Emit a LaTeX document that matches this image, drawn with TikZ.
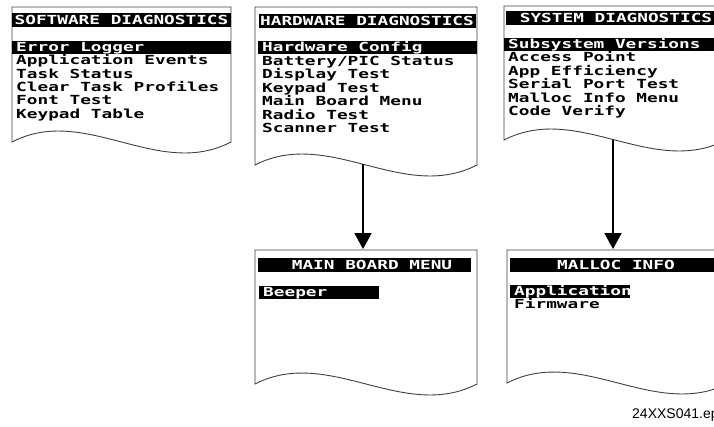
\documentclass[tikz,border=0pt]{standalone}
\usepackage{fontspec}
\setmainfont{Liberation Sans}
\newfontfamily\scrfont[FakeStretch=1.42]{DejaVu Sans Mono}
\newcommand\scrtext{\scrfont\bfseries\fontsize{12.5pt}{13pt}\selectfont}
\usetikzlibrary{arrows.meta}

\tikzset{
  scrbox/.style={draw=black!75, line width=0.9pt, fill=white},
  titlebar/.style={fill=black, text=white, inner sep=0pt, minimum height=14pt,
    text height=10.5pt, text depth=1.5pt, font=\scrtext},
  item/.style={anchor=west, inner xsep=0pt, inner ysep=0pt,
    text height=10.5pt, text depth=1.5pt, font=\scrtext},
  hilite/.style={item, fill=black, text=white, inner xsep=4pt,
    minimum height=13pt},
  flow/.style={line width=2pt, -{Triangle[width=17pt,length=16pt]}}
}

\begin{document}
\begin{tikzpicture}[x=1pt,y=-1pt]
\useasboundingbox (0,0) rectangle (714,426);
\clip (0,0) rectangle (714,426);

% screens, wavy bottom
\draw[scrbox] (12,142) -- (12,7) -- (231,7) -- (231,142)
  .. controls (158,180) and (85,104) .. cycle;
\draw[scrbox] (255,165) -- (255,7) -- (477,7) -- (477,165)
  .. controls (403,203) and (329,127) .. cycle;
\draw[scrbox] (504,140) -- (504,6) -- (726,6) -- (726,140)
  .. controls (652,178) and (578,102) .. cycle;
\draw[scrbox] (255,384) -- (255,250) -- (477,250) -- (477,384)
  .. controls (403,422) and (329,346) .. cycle;
\draw[scrbox] (507,383) -- (507,250) -- (729,250) -- (729,383)
  .. controls (655,421) and (581,345) .. cycle;

% software diagnostics
\node[titlebar, minimum width=219pt] (swtitle) at (121.5,20) {SOFTWARE DIAGNOSTICS};
\node[hilite] (sw1) at (12,47) {\makebox[211pt][l]{Error Logger}};
\node[item] (sw2) at (16,60.3) {Application Events};
\node[item] (sw3) at (16,73.6) {Task Status};
\node[item] (sw4) at (16,86.9) {Clear Task Profiles};
\node[item] (sw5) at (16,100.2) {Font Test};
\node[item] (sw6) at (16,113.5) {Keypad Table};

% hardware diagnostics
\node[titlebar, minimum width=217pt] (hwtitle) at (367,21) {HARDWARE DIAGNOSTICS};
\node[hilite] (hw1) at (258,47) {\makebox[211pt][l]{Hardware Config}};
\node[item] (hw2) at (262,60.5) {Battery/PIC Status};
\node[item] (hw3) at (262,74) {Display Test};
\node[item] (hw4) at (262,87.5) {Keypad Test};
\node[item] (hw5) at (262,101) {Main Board Menu};
\node[item] (hw6) at (262,114.5) {Radio Test};
\node[item] (hw7) at (262,128) {Scanner Test};

% system diagnostics
\node[titlebar, minimum width=220pt] (systitle) at (616,17.5) {SYSTEM DIAGNOSTICS};
\node[hilite] (sys1) at (504,44) {\makebox[214pt][l]{Subsystem Versions}};
\node[item] (sys2) at (508,57.4) {Access Point};
\node[item] (sys3) at (508,70.8) {App Efficiency};
\node[item] (sys4) at (508,84.2) {Serial Port Test};
\node[item] (sys5) at (508,97.6) {Malloc Info Menu};
\node[item] (sys6) at (508,111) {Code Verify};

% main board menu
\node[titlebar, minimum width=213pt] (mbtitle) at (364.5,264.5) {\hspace*{15pt}MAIN BOARD MENU};
\node[hilite] (mb1) at (259,292) {\makebox[112pt][l]{Beeper}};

% malloc info
\node[titlebar, minimum width=212pt] (maltitle) at (616,264.5) {MALLOC INFO};
\node[hilite] (mal1) at (510,291) {\makebox[112pt][l]{Application}};
\node[item] (mal2) at (514,304) {Firmware};

% arrows
\coordinate (hwout) at (363,164);
\coordinate (mbin) at (363,249);
\coordinate (sysout) at (613,139.5);
\coordinate (malin) at (613,249);
\draw[flow] (hwout) -- (mbin);
\draw[flow] (sysout) -- (malin);

\node[anchor=west, inner sep=0pt, font=\fontsize{14pt}{16pt}\selectfont] (fname) at (632,415) {24XXS041.ep};
\end{tikzpicture}
\end{document}
